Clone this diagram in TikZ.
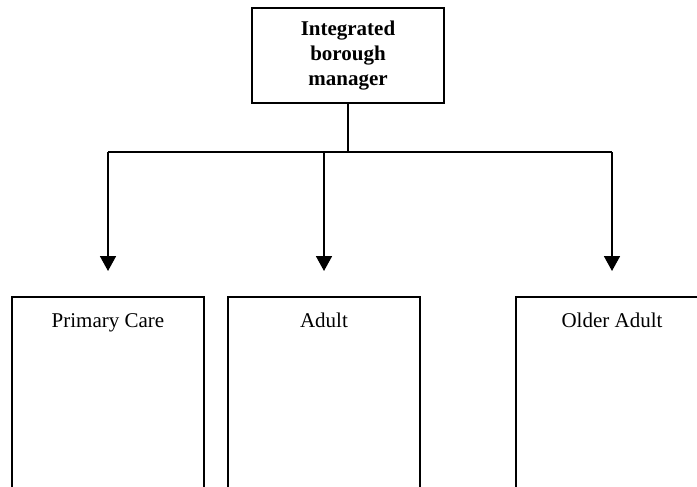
\documentclass[tikz,border=0pt]{standalone}
\usepackage{fontspec}
\setmainfont{Liberation Serif}
\usetikzlibrary{arrows.meta}
\tikzset{
  boxline/.style={line width=1.8pt},
  headbox/.style={boxline, draw, rectangle, minimum width=192pt, minimum height=95pt,
    align=center, inner sep=0pt, font=\fontsize{21}{25}\selectfont\bfseries},
  unitbox/.style={boxline, draw, rectangle, anchor=north, minimum width=192pt,
    text height=14pt, text depth=300pt, inner ysep=17pt, inner xsep=0pt,
    font=\fontsize{21}{25}\selectfont},
  conn/.style={line width=1.8pt},
  arr/.style={conn, -{Triangle[length=15pt, width=16pt]}}
}
\begin{document}
\begin{tikzpicture}[x=1pt, y=-1pt]
\clip (0,0) rectangle (697,487);
\fill[white] (0,0) rectangle (697,487);
\node[headbox] (top) at (348,55.5) {Integrated\\borough\\manager};
\node[unitbox] (b1) at (108,296) {Primary Care};
\node[unitbox] (b2) at (324,296) {Adult};
\node[unitbox] (b3) at (612,296) {Older Adult};
\coordinate (j) at (348,152);
\coordinate (t1) at (108,271);
\coordinate (t2) at (324,271);
\coordinate (t3) at (612,271);
\draw[conn] (top.south) -- (j);
\draw[conn] (t1 |- j) -- (t3 |- j);
\draw[arr] (t1 |- j) -- (t1);
\draw[arr] (t2 |- j) -- (t2);
\draw[arr] (t3 |- j) -- (t3);
\end{tikzpicture}
\end{document}
